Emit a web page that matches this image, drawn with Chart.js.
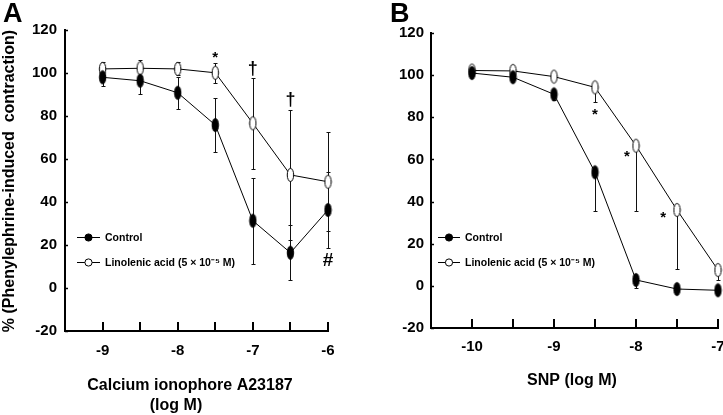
<!DOCTYPE html>
<html><head><meta charset="utf-8">
<script src="https://cdn.jsdelivr.net/npm/chart.js@4"></script>
<style>
html,body{margin:0;padding:0;background:#fff;}
#wrap{position:relative;width:723px;height:415px;overflow:hidden;background:#fff;}
.panel{position:absolute;top:0;height:415px;overflow:hidden;}
#pa{left:0;width:361px;}
#pb{left:361px;width:362px;}
canvas{display:block;}
</style></head><body>
<div id="wrap"><div class="panel" id="pa"><canvas id="ca" width="361" height="415"></canvas></div><div class="panel" id="pb"><canvas id="cb" width="362" height="415"></canvas></div></div>
<script>
// ---- data ----
const doseA = [-9, -8.5, -8, -7.5, -7, -6.5, -6];
const controlA = [98, 96.4, 90.8, 75.8, 31.3, 16.4, 36.3];
const controlAErr = [4, 6, 7.5, 12.4, 20, 12.8, 17.7];
const linolenicA = [101.9, 102.2, 101.9, 100.1, 76.6, 52.6, 49.4];
const linolenicAErr = [3, 3.8, 3, 4.7, 21.2, 30.4, 23];

const doseB = [-10, -9.5, -9, -8.5, -8, -7.5, -7];
const controlB = [101, 99, 90.9, 53.9, 2.8, -1.5, -2.1];
const controlBErr = [1, 1, 2.7, 18.4, 4, 1, 1];
const linolenicB = [102.2, 102, 99.3, 94.2, 66.5, 36, 7.5];
const linolenicBErr = [1, 1, 1, 7.1, 31, 28.2, 4.7];

const yTicks = [-20, 0, 20, 40, 60, 80, 100, 120];
const xTicksA = [-9, -8, -7, -6];
const xTicksB = [-10, -9, -8, -7];

const marksA = [{x: -7.5, y: 108.4, t: '*'}, {x: -7, y: 101.9, t: '†'}, {x: -6.5, y: 87.4, t: '†'}, {x: -6, y: 12.6, t: '#'}];
const marksB = [{x: -8.5, y: 82.5, t: '*'}, {x: -8.11, y: 62.6, t: '*'}, {x: -7.67, y: 33.6, t: '*'}];

const seriesNames = ['Control', 'Linolenic acid (5 \u00d7 10\u207b\u2075 M)'];

// ---- markers ----
function ellipseMarker(fill) {
  const c = document.createElement('canvas'); c.width = 9; c.height = 16;
  const g = c.getContext('2d');
  g.beginPath(); g.ellipse(4.5, 8, 3.2, 6.6, 0, 0, Math.PI * 2);
  g.fillStyle = fill; g.fill(); g.lineWidth = 1; g.strokeStyle = '#000'; g.stroke();
  return c;
}
const filledMk = ellipseMarker('#000');
const openMk = ellipseMarker('#fff');
const FONT = "'Liberation Sans', Arial, sans-serif";

const panelPlugin = {
  id: 'panel',
  beforeDatasetsDraw(chart) {
    const o = chart.options.plugins.panel, ctx = chart.ctx, xs = chart.scales.x, ys = chart.scales.y;
    ctx.save(); ctx.strokeStyle = '#111'; ctx.lineWidth = 1;
    o.errors.forEach(s => {
      s.x.forEach((xv, i) => {
        const px = Math.round(xs.getPixelForValue(xv)) + 0.5;
        const lo = Math.round(ys.getPixelForValue(s.y[i] - s.e[i])) + 0.5;
        const hi = Math.round(ys.getPixelForValue(s.y[i] + (s.both ? s.e[i] : 0))) + 0.5;
        ctx.beginPath(); ctx.moveTo(px, hi); ctx.lineTo(px, lo);
        ctx.moveTo(px - 2, lo); ctx.lineTo(px + 2, lo);
        if (s.both) { ctx.moveTo(px - 2, hi); ctx.lineTo(px + 2, hi); }
        ctx.stroke();
      });
    });
    ctx.restore();
  },
  afterDraw(chart) {
    const o = chart.options.plugins.panel, ctx = chart.ctx, xs = chart.scales.x, ys = chart.scales.y;
    const a = chart.chartArea;
    ctx.save();
    ctx.strokeStyle = '#000'; ctx.lineWidth = 2;
    // inward x ticks
    o.xTickVals.forEach(v => {
      const px = Math.round(xs.getPixelForValue(v));
      ctx.beginPath(); ctx.moveTo(px, a.bottom); ctx.lineTo(px, a.bottom - 9); ctx.stroke();
    });
    // small inward y ticks
    ctx.lineWidth = 1.5;
    yTicks.forEach(v => {
      const py = Math.round(ys.getPixelForValue(v)) + 0.5;
      ctx.beginPath(); ctx.moveTo(a.left, py); ctx.lineTo(a.left + 3, py); ctx.stroke();
    });
    // significance marks
    ctx.fillStyle = '#000'; ctx.textAlign = 'center'; ctx.textBaseline = 'middle';
    o.marks.forEach(m => {
      ctx.font = 'bold ' + (m.t === '*' ? 15 : m.t === '#' ? 19 : 18) + 'px ' + FONT;
      ctx.fillText(m.t, xs.getPixelForValue(m.x), ys.getPixelForValue(m.y) + (m.t === '*' ? 3 : 0));
    });
    // legend
    const lg = o.legend;
    [['#000', lg.y0], ['#fff', lg.y1]].forEach((r, i) => {
      ctx.lineWidth = 1; ctx.strokeStyle = '#000';
      ctx.beginPath(); ctx.moveTo(lg.x0, r[1] + 0.5); ctx.lineTo(lg.x1, r[1] + 0.5); ctx.stroke();
      ctx.beginPath(); ctx.arc(lg.xm, r[1] + 0.5, 3.6, 0, Math.PI * 2);
      ctx.fillStyle = r[0]; ctx.fill(); ctx.stroke();
      ctx.fillStyle = '#000'; ctx.textAlign = 'left'; ctx.textBaseline = 'middle';
      ctx.font = 'bold 10.5px ' + FONT;
      ctx.fillText(seriesNames[i], lg.xt, r[1] + 1);
    });
    // panel letter
    ctx.font = 'bold 27px ' + FONT; ctx.textAlign = 'left'; ctx.textBaseline = 'middle';
    ctx.fillText(o.letter, o.letterX, 15);
    // x title
    ctx.font = 'bold 16px ' + FONT; ctx.textAlign = 'center';
    o.xTitle.forEach(t => ctx.fillText(t[0], t[1], t[2]));
    // y title
    if (o.yTitle) {
      ctx.translate(o.yTitle[1], o.yTitle[2]); ctx.rotate(-Math.PI / 2);
      ctx.fillText(o.yTitle[0], 0, 0);
    }
    ctx.restore();
  }
};

function makeChart(id, dose, ctrl, ctrlErr, lin, linErr, xmin, xmax, xt, both, cfg) {
  return new Chart(document.getElementById(id), {
    type: 'line',
    data: {
      datasets: [
        {label: seriesNames[0], data: dose.map((x, i) => ({x, y: ctrl[i]})), borderColor: '#000', borderWidth: 1,
         pointStyle: filledMk, pointRadius: 5, clip: false, tension: 0},
        {label: seriesNames[1], data: dose.map((x, i) => ({x, y: lin[i]})), borderColor: '#000', borderWidth: 1,
         pointStyle: openMk, pointRadius: 5, clip: false, tension: 0}
      ]
    },
    options: {
      responsive: false, animation: false, events: [],
      layout: {autoPadding: false, padding: cfg.padding},
      plugins: {
        legend: {display: false}, tooltip: {enabled: false},
        panel: {
          errors: [{x: dose, y: ctrl, e: ctrlErr, both}, {x: dose, y: lin, e: linErr, both}],
          xTickVals: dose, marks: cfg.marks, legend: cfg.legend, letter: cfg.letter, letterX: cfg.letterX,
          xTitle: cfg.xTitle, yTitle: cfg.yTitle
        }
      },
      scales: {
        x: {
          type: 'linear', min: xmin, max: xmax,
          afterBuildTicks: s => { s.ticks = xt.map(v => ({value: v})); },
          afterFit: s => { s.height = cfg.xh; s.paddingLeft = 0; s.paddingRight = 0; },
          grid: {display: false, drawTicks: false, tickLength: 0},
          border: {display: true, color: '#000', width: 2},
          ticks: {color: '#000', font: {family: FONT, weight: 'bold', size: 15}, padding: cfg.xpad, autoSkip: false, maxRotation: 0,
                  callback: v => String(v)}
        },
        y: {
          min: -20, max: 120,
          afterBuildTicks: s => { s.ticks = yTicks.map(v => ({value: v})); },
          afterFit: s => { s.width = cfg.yw; s.paddingTop = 0; s.paddingBottom = 0; },
          grid: {display: false, drawTicks: false, tickLength: 0},
          border: {display: true, color: '#000', width: 2},
          ticks: {color: '#000', font: {family: FONT, weight: 'bold', size: 15}, padding: cfg.ypad,
                  callback: v => String(v)}
        }
      }
    },
    plugins: [panelPlugin]
  });
}

makeChart('ca', doseA, controlA, controlAErr, linolenicA, linolenicAErr, -9.5, -6, xTicksA, true, {
  padding: {left: 0, right: 33, top: 30, bottom: 0}, yw: 65, xh: 84, xpad: 11, ypad: 8,
  marks: marksA, legend: {x0: 77, x1: 100, xm: 88.5, xt: 105, y0: 237, y1: 262},
  letter: 'A', letterX: 3,
  xTitle: [['Calcium ionophore A23187', 190, 386], ['(log M)', 176, 406]],
  yTitle: ['% (Phenylephrine-induced  contraction)', 10, 181]
});
makeChart('cb', doseB, controlB, controlBErr, linolenicB, linolenicBErr, -10.5, -7, xTicksB, false, {
  padding: {left: 0, right: 5, top: 33, bottom: 0}, yw: 70, xh: 87, xpad: 10, ypad: 7,
  marks: marksB, legend: {x0: 77, x1: 99, xm: 88, xt: 104, y0: 237, y1: 262},
  letter: 'B', letterX: 29,
  xTitle: [['SNP (log M)', 211, 381]],
  yTitle: null
});
</script>
</body></html>
